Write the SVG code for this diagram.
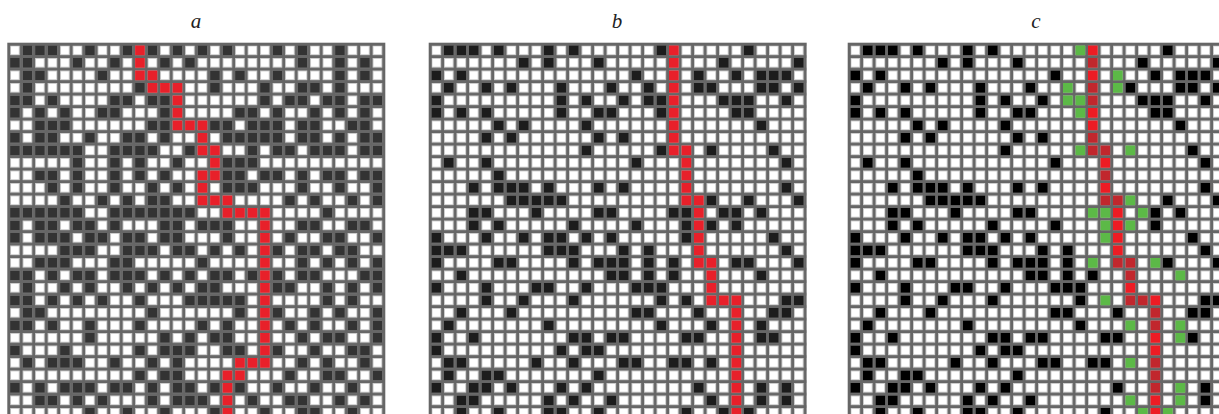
<svg xmlns="http://www.w3.org/2000/svg" width="1219" height="414" viewBox="0 0 1219 414">
<style>
.lbl{font-family:"Liberation Serif",serif;font-style:italic;font-size:21px;fill:#222;text-anchor:middle}
.bg{fill:#666}
.cells path{fill:none;stroke-width:.776}
.da{stroke:#333}
.db{stroke:#1c1c1c}
.dc{stroke:#000}
.rd{stroke:#e8202a}
.rb{stroke:#ed1c24}
.rk{stroke:#c1272d}
.gr{stroke:#5cb947}
</style>
<defs>
<pattern id="wp" x="2.8" y="2.8" width="12.5" height="12.5" patternUnits="userSpaceOnUse"><rect x="0.4" y="0.4" width="8.9" height="8.9" fill="#fff" stroke="#cfcfcf" stroke-width="0.8"/></pattern>
</defs>
<g id="labels">
<text class="lbl" x="196" y="28">a</text>
<text class="lbl" x="617" y="28">b</text>
<text class="lbl" x="1036" y="28">c</text>
</g>
<g id="panel-a" transform="translate(7.3 42.7)">
<rect class="bg" width="378" height="378"/>
<rect x="2.8" y="2.8" width="375" height="375" fill="url(#wp)"/>
<g class="cells" transform="translate(2.8 7.65) scale(12.5)">
<path class="da" d="M1 0h.776M2 0h.776M3 0h.776M6 0h.776M9 0h.776M11 0h.776M13 0h.776M15 0h.776M17 0h.776M21 0h.776M23 0h.776M26 0h.776
M0 1h.776M1 1h.776M5 1h.776M8 1h.776M12 1h.776M14 1h.776M23 1h.776M26 1h.776M28 1h.776
M1 2h.776M2 2h.776M7 2h.776M16 2h.776M18 2h.776M21 2h.776M26 2h.776M28 2h.776
M1 3h.776M10 3h.776M16 3h.776M20 3h.776M23 3h.776M24 3h.776M26 3h.776
M0 4h.776M1 4h.776M3 4h.776M8 4h.776M9 4h.776M11 4h.776M12 4h.776M20 4h.776M22 4h.776M23 4h.776M25 4h.776M26 4h.776M28 4h.776M29 4h.776
M0 5h.776M2 5h.776M4 5h.776M7 5h.776M8 5h.776M12 5h.776M18 5h.776M19 5h.776M21 5h.776M24 5h.776M26 5h.776M28 5h.776
M2 6h.776M3 6h.776M4 6h.776M11 6h.776M12 6h.776M16 6h.776M17 6h.776M19 6h.776M20 6h.776M21 6h.776M23 6h.776M24 6h.776M27 6h.776M28 6h.776
M0 7h.776M2 7h.776M3 7h.776M6 7h.776M9 7h.776M10 7h.776M12 7h.776M17 7h.776M18 7h.776M19 7h.776M20 7h.776M21 7h.776M23 7h.776M24 7h.776M26 7h.776M28 7h.776M29 7h.776
M0 8h.776M1 8h.776M2 8h.776M3 8h.776M4 8h.776M5 8h.776M8 8h.776M9 8h.776M10 8h.776M11 8h.776M14 8h.776M19 8h.776M21 8h.776M22 8h.776M24 8h.776M25 8h.776M26 8h.776M28 8h.776M29 8h.776
M5 9h.776M8 9h.776M10 9h.776M13 9h.776M17 9h.776M18 9h.776M19 9h.776
M2 10h.776M3 10h.776M5 10h.776M8 10h.776M10 10h.776M12 10h.776M17 10h.776M18 10h.776M20 10h.776M21 10h.776M23 10h.776M25 10h.776M26 10h.776M28 10h.776M29 10h.776
M3 11h.776M5 11h.776M8 11h.776M11 11h.776M13 11h.776M17 11h.776M18 11h.776M19 11h.776M23 11h.776M26 11h.776M29 11h.776
M4 12h.776M7 12h.776M9 12h.776M11 12h.776M12 12h.776M22 12h.776M24 12h.776M27 12h.776M29 12h.776
M0 13h.776M1 13h.776M2 13h.776M3 13h.776M4 13h.776M5 13h.776M8 13h.776M9 13h.776M10 13h.776M11 13h.776M12 13h.776M13 13h.776M14 13h.776M25 13h.776
M0 14h.776M2 14h.776M3 14h.776M5 14h.776M6 14h.776M8 14h.776M12 14h.776M13 14h.776M15 14h.776M16 14h.776M17 14h.776M23 14h.776M24 14h.776M27 14h.776M28 14h.776
M0 15h.776M2 15h.776M3 15h.776M4 15h.776M6 15h.776M7 15h.776M9 15h.776M10 15h.776M12 15h.776M13 15h.776M17 15h.776M22 15h.776M25 15h.776M26 15h.776M29 15h.776
M4 16h.776M5 16h.776M6 16h.776M9 16h.776M10 16h.776M11 16h.776M13 16h.776M14 16h.776M16 16h.776M18 16h.776M21 16h.776M23 16h.776M24 16h.776M26 16h.776M27 16h.776
M2 17h.776M3 17h.776M4 17h.776M8 17h.776M9 17h.776M15 17h.776M23 17h.776M25 17h.776M27 17h.776M29 17h.776
M0 18h.776M1 18h.776M3 18h.776M5 18h.776M6 18h.776M8 18h.776M9 18h.776M10 18h.776M12 18h.776M14 18h.776M16 18h.776M17 18h.776M19 18h.776M21 18h.776M23 18h.776M24 18h.776M28 18h.776M29 18h.776
M1 19h.776M4 19h.776M6 19h.776M9 19h.776M11 19h.776M13 19h.776M15 19h.776M16 19h.776M21 19h.776M22 19h.776M25 19h.776M27 19h.776M29 19h.776
M0 20h.776M1 20h.776M3 20h.776M5 20h.776M7 20h.776M10 20h.776M14 20h.776M15 20h.776M16 20h.776M17 20h.776M18 20h.776M25 20h.776M27 20h.776
M1 21h.776M2 21h.776M11 21h.776M18 21h.776M21 21h.776M24 21h.776M26 21h.776M29 21h.776
M0 22h.776M1 22h.776M3 22h.776M6 22h.776M10 22h.776M15 22h.776M17 22h.776M22 22h.776M24 22h.776M27 22h.776M29 22h.776
M6 23h.776M12 23h.776M14 23h.776M16 23h.776M17 23h.776M23 23h.776M25 23h.776M26 23h.776M29 23h.776
M0 24h.776M4 24h.776M10 24h.776M12 24h.776M13 24h.776M14 24h.776M17 24h.776M18 24h.776M21 24h.776M24 24h.776M27 24h.776M28 24h.776
M1 25h.776M3 25h.776M4 25h.776M5 25h.776M8 25h.776M11 25h.776M13 25h.776M23 25h.776M25 25h.776M28 25h.776
M10 26h.776M12 26h.776M13 26h.776M22 26h.776M25 26h.776M26 26h.776M29 26h.776
M0 27h.776M2 27h.776M4 27h.776M5 27h.776M6 27h.776M8 27h.776M9 27h.776M11 27h.776M13 27h.776M14 27h.776M16 27h.776M18 27h.776M21 27h.776M24 27h.776M27 27h.776
M2 28h.776M3 28h.776M5 28h.776M7 28h.776M11 28h.776M13 28h.776M14 28h.776M15 28h.776M19 28h.776M22 28h.776M23 28h.776M26 28h.776M28 28h.776
M6 29h.776M9 29h.776M12 29h.776M16 29h.776M20 29h.776M23 29h.776M24 29h.776M27 29h.776"/>
<path class="rd" d="M10 0h.776M10 1h.776M10 2h.776M11 2h.776M11 3h.776M12 3h.776M13 3h.776M13 4h.776M13 5h.776M13 6h.776M14 6h.776M15 6h.776M15 7h.776M15 8h.776M16 8h.776M16 9h.776M15 10h.776M16 10h.776M15 11h.776M15 12h.776M16 12h.776M17 12h.776M17 13h.776M18 13h.776M19 13h.776M20 13h.776M20 14h.776M20 15h.776M20 16h.776M20 17h.776M20 18h.776M20 19h.776M20 20h.776M20 21h.776M20 22h.776M20 23h.776M20 24h.776M18 25h.776M19 25h.776M20 25h.776M17 26h.776M18 26h.776M17 27h.776M17 28h.776M17 29h.776"/>
</g>
</g>
<g id="panel-b" transform="translate(428.7 42.7)">
<rect class="bg" width="378" height="378"/>
<rect x="2.8" y="2.8" width="375" height="375" fill="url(#wp)"/>
<g class="cells" transform="translate(2.8 7.65) scale(12.5)">
<path class="db" d="M1 0h.776M2 0h.776M3 0h.776M5 0h.776M9 0h.776M11 0h.776M18 0h.776M25 0h.776
M7 1h.776M9 1h.776M13 1h.776M23 1h.776M29 1h.776
M0 2h.776M2 2h.776M16 2h.776M21 2h.776M24 2h.776M26 2h.776M27 2h.776M28 2h.776
M1 3h.776M4 3h.776M6 3h.776M10 3h.776M14 3h.776M17 3h.776M21 3h.776M22 3h.776M26 3h.776M27 3h.776M29 3h.776
M0 4h.776M10 4h.776M12 4h.776M15 4h.776M17 4h.776M18 4h.776M23 4h.776M24 4h.776M25 4h.776M28 4h.776
M0 5h.776M2 5h.776M4 5h.776M10 5h.776M13 5h.776M14 5h.776M18 5h.776M24 5h.776M25 5h.776
M5 6h.776M7 6h.776M12 6h.776M26 6h.776
M4 7h.776M6 7h.776M13 7h.776M15 7h.776
M12 8h.776M18 8h.776M22 8h.776M27 8h.776
M1 9h.776M4 9h.776M16 9h.776M28 9h.776
M5 10h.776
M3 11h.776M5 11h.776M6 11h.776M7 11h.776M9 11h.776M13 11h.776M15 11h.776M28 11h.776
M6 12h.776M7 12h.776M8 12h.776M9 12h.776M10 12h.776M22 12h.776M25 12h.776M29 12h.776
M3 13h.776M4 13h.776M8 13h.776M13 13h.776M14 13h.776M19 13h.776M20 13h.776M23 13h.776M24 13h.776M26 13h.776
M3 14h.776M5 14h.776M11 14h.776M16 14h.776M20 14h.776M22 14h.776M24 14h.776
M0 15h.776M4 15h.776M7 15h.776M9 15h.776M10 15h.776M12 15h.776M14 15h.776M20 15h.776M27 15h.776
M0 16h.776M1 16h.776M2 16h.776M9 16h.776M10 16h.776M11 16h.776M15 16h.776M17 16h.776M28 16h.776
M0 17h.776M5 17h.776M6 17h.776M11 17h.776M13 17h.776M14 17h.776M15 17h.776M17 17h.776M19 17h.776M24 17h.776M25 17h.776M29 17h.776
M2 18h.776M14 18h.776M15 18h.776M17 18h.776M19 18h.776M26 18h.776
M0 19h.776M4 19h.776M8 19h.776M9 19h.776M12 19h.776M16 19h.776M17 19h.776M18 19h.776
M4 20h.776M7 20h.776M11 20h.776M18 20h.776M20 20h.776M28 20h.776M29 20h.776
M2 21h.776M6 21h.776M16 21h.776M17 21h.776M21 21h.776M27 21h.776M28 21h.776
M1 22h.776M9 22h.776M18 22h.776M22 22h.776M26 22h.776
M0 23h.776M3 23h.776M11 23h.776M12 23h.776M14 23h.776M15 23h.776M20 23h.776M21 23h.776M26 23h.776M27 23h.776
M0 24h.776M10 24h.776M12 24h.776M13 24h.776
M1 25h.776M2 25h.776M8 25h.776M11 25h.776M15 25h.776M16 25h.776M19 25h.776M20 25h.776M22 25h.776
M1 26h.776M4 26h.776M5 26h.776M13 26h.776
M0 27h.776M3 27h.776M4 27h.776M6 27h.776M10 27h.776M12 27h.776M21 27h.776M26 27h.776M28 27h.776
M2 28h.776M3 28h.776M9 28h.776M11 28h.776M14 28h.776M22 28h.776M26 28h.776M28 28h.776
M2 29h.776M5 29h.776M9 29h.776M10 29h.776M13 29h.776M20 29h.776M23 29h.776M25 29h.776"/>
<path class="rd" d="M19 0h.776M19 1h.776M19 2h.776M19 3h.776M19 4h.776M19 5h.776M19 6h.776M19 7h.776M19 8h.776M20 8h.776M20 9h.776M20 10h.776M20 11h.776M20 12h.776M21 12h.776M21 13h.776M21 14h.776M21 15h.776M21 16h.776M21 17h.776M22 17h.776M22 18h.776M22 19h.776M22 20h.776M23 20h.776M24 20h.776M24 21h.776M24 22h.776M24 23h.776M24 24h.776M24 25h.776M24 26h.776M24 27h.776M24 28h.776M24 29h.776"/>
</g>
</g>
<g id="panel-c" transform="translate(847.7 42.7)">
<rect class="bg" width="378" height="378"/>
<rect x="2.8" y="2.8" width="375" height="375" fill="url(#wp)"/>
<g class="cells" transform="translate(2.8 7.65) scale(12.5)">
<path class="dc" d="M1 0h.776M2 0h.776M3 0h.776M5 0h.776M9 0h.776M11 0h.776M25 0h.776
M7 1h.776M9 1h.776M13 1h.776M23 1h.776M29 1h.776
M0 2h.776M2 2h.776M16 2h.776M24 2h.776M26 2h.776M27 2h.776M28 2h.776
M1 3h.776M4 3h.776M6 3h.776M10 3h.776M14 3h.776M22 3h.776M26 3h.776M27 3h.776M29 3h.776
M0 4h.776M10 4h.776M12 4h.776M15 4h.776M23 4h.776M24 4h.776M25 4h.776M28 4h.776
M0 5h.776M2 5h.776M4 5h.776M10 5h.776M13 5h.776M14 5h.776M24 5h.776M25 5h.776
M5 6h.776M7 6h.776M12 6h.776M26 6h.776
M4 7h.776M6 7h.776M13 7h.776M15 7h.776
M12 8h.776M27 8h.776
M1 9h.776M4 9h.776M16 9h.776M28 9h.776
M5 10h.776
M3 11h.776M5 11h.776M6 11h.776M7 11h.776M9 11h.776M13 11h.776M15 11h.776M28 11h.776
M6 12h.776M7 12h.776M8 12h.776M9 12h.776M10 12h.776M25 12h.776M29 12h.776
M3 13h.776M4 13h.776M8 13h.776M13 13h.776M14 13h.776M24 13h.776M26 13h.776
M3 14h.776M5 14h.776M11 14h.776M16 14h.776M24 14h.776
M0 15h.776M4 15h.776M7 15h.776M9 15h.776M10 15h.776M12 15h.776M14 15h.776M27 15h.776
M0 16h.776M1 16h.776M2 16h.776M9 16h.776M10 16h.776M11 16h.776M15 16h.776M17 16h.776M28 16h.776
M0 17h.776M5 17h.776M6 17h.776M11 17h.776M13 17h.776M14 17h.776M15 17h.776M17 17h.776M25 17h.776M29 17h.776
M2 18h.776M14 18h.776M15 18h.776M17 18h.776M19 18h.776
M0 19h.776M4 19h.776M8 19h.776M9 19h.776M12 19h.776M16 19h.776M17 19h.776M18 19h.776
M4 20h.776M7 20h.776M11 20h.776M18 20h.776M28 20h.776M29 20h.776
M2 21h.776M6 21h.776M16 21h.776M17 21h.776M21 21h.776M27 21h.776M28 21h.776
M1 22h.776M9 22h.776M18 22h.776
M0 23h.776M3 23h.776M11 23h.776M12 23h.776M14 23h.776M15 23h.776M20 23h.776M21 23h.776M27 23h.776
M0 24h.776M10 24h.776M12 24h.776M13 24h.776
M1 25h.776M2 25h.776M8 25h.776M11 25h.776M15 25h.776M16 25h.776M19 25h.776M20 25h.776
M1 26h.776M4 26h.776M5 26h.776M13 26h.776
M0 27h.776M3 27h.776M4 27h.776M6 27h.776M10 27h.776M12 27h.776M21 27h.776M28 27h.776
M2 28h.776M3 28h.776M9 28h.776M11 28h.776M14 28h.776M28 28h.776
M2 29h.776M5 29h.776M9 29h.776M10 29h.776M13 29h.776M20 29h.776"/>
<path class="gr" d="M18 0h.776M21 2h.776M17 3h.776M21 3h.776M17 4h.776M18 4h.776M18 5h.776M18 8h.776M22 8h.776M22 12h.776M19 13h.776M20 13h.776M23 13h.776M20 14h.776M22 14h.776M20 15h.776M19 17h.776M24 17h.776M26 18h.776M20 20h.776M22 22h.776M26 22h.776M26 23h.776M22 25h.776M26 27h.776M22 28h.776M26 28h.776M23 29h.776M25 29h.776"/>
<path class="rb" d="M19 0h.776M19 2h.776M19 5h.776M19 6h.776M20 9h.776M20 11h.776M21 13h.776M21 14h.776M21 15h.776M21 16h.776M22 19h.776M24 20h.776M24 23h.776M24 24h.776M24 28h.776M24 29h.776"/>
<path class="rk" d="M19 1h.776M19 3h.776M19 4h.776M19 7h.776M19 8h.776M20 8h.776M20 10h.776M20 12h.776M21 12h.776M21 17h.776M22 17h.776M22 18h.776M22 20h.776M23 20h.776M24 21h.776M24 22h.776M24 25h.776M24 26h.776M24 27h.776"/>
</g>
</g>
</svg>
